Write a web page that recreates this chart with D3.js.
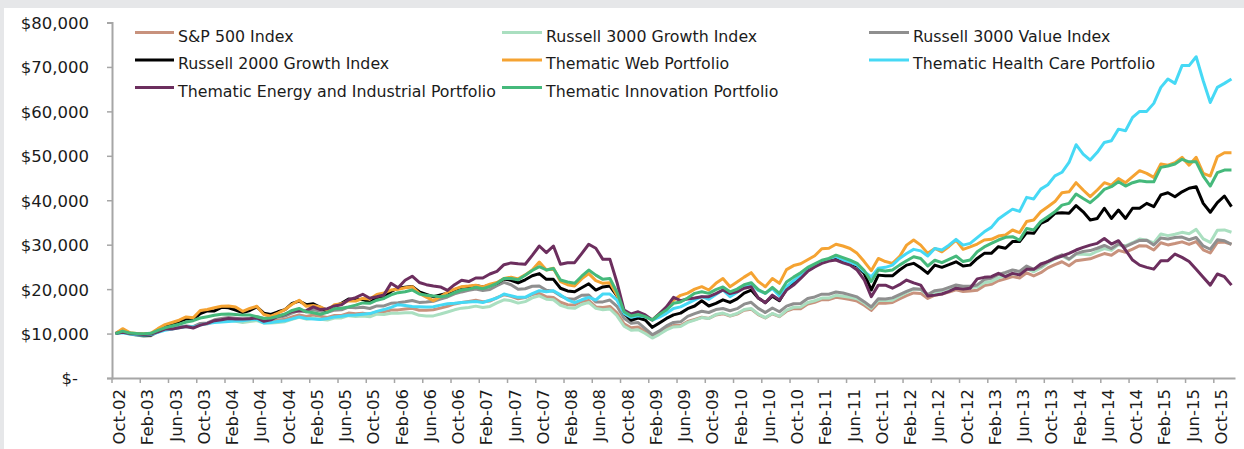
<!DOCTYPE html>
<html><head><meta charset="utf-8">
<script src="https://cdn.jsdelivr.net/npm/d3@7"></script>
<style>
html,body{margin:0;padding:0;background:#e6e7e9;}
svg{display:block;}
text{font-family:"DejaVu Sans",sans-serif;fill:#1b1b1b;}
</style></head><body><svg id="chart" width="1244" height="449"></svg>
<script>
// ---- DATA (growth of $10,000, monthly, Oct-02 .. Dec-15) ----
const seriesNames = ["S&P 500 Index","Russell 3000 Growth Index","Russell 3000 Value Index",
  "Russell 2000 Growth Index","Thematic Web Portfolio","Thematic Health Care Portfolio",
  "Thematic Energy and Industrial Portfolio","Thematic Innovation Portfolio"];
const seriesColors = ["#c8927d","#aadfc0","#8f8f8f","#000000","#f5a332","#46d9f5","#6c2e5e","#45b97b"];

const sp500 = [10000,10590,9970,9710,9560,9660,10450,11000,11150,11350,11560,11430,
12090,12200,12830,13060,13240,13040,12840,13020,13260,12820,12880,13020,
13210,13740,14210,13870,14160,13900,13640,14080,14090,14610,14480,14600,
14350,14890,14890,15280,15330,15510,15710,15260,15270,15360,15730,16140,
16670,16990,17230,17490,17140,17320,18090,18720,18400,17830,18100,18770,
19070,18270,18140,17050,16490,16420,17230,17450,15990,15860,16100,14660,
12200,11320,11450,10480,9360,10190,11160,11790,11810,12710,13170,13660,
13400,14200,14470,13950,14380,15240,15490,14250,13510,14450,13800,15030,
15600,15600,16650,17050,17630,17630,18160,17960,17650,17300,16360,15220,
16880,16840,17010,17780,18540,19150,19040,17900,18630,18890,19330,19830,
19470,19590,19770,20790,21080,21890,22300,22810,22520,23670,22980,23690,
24780,25530,26160,25250,26410,26620,26810,27420,28000,27610,28710,28310,
28990,29770,29680,28790,30430,29950,30250,30640,30060,30690,28850,28130,
30490,30580,30090];

const russell3000Growth = [10000,10540,9870,9610,9460,9610,10450,11000,11150,11400,11620,11430,
12150,12200,12760,12930,13040,12780,12510,12690,12930,12380,12360,12500,
12680,13190,13640,13240,13450,13210,13030,13510,13530,14030,13830,13940,
13770,14370,14300,14590,14560,14660,14690,14110,13970,13980,14390,14850,
15340,15720,15850,16170,15850,16110,16910,17600,17390,16850,17190,18020,
18500,17720,17600,16370,15830,15680,16540,17020,15670,15380,15530,14000,
11650,10750,10870,10010,8990,9830,10830,11490,11580,12520,13040,13590,
13400,14270,14610,14020,14520,15400,15640,14390,13580,14530,13870,15260,
15920,15990,16980,17390,17980,17980,18610,18400,18180,17820,16860,15680,
17470,17430,17520,18400,19280,20020,19900,18610,19280,19650,20200,20620,
20150,20370,20460,21420,21720,22540,22970,23500,23300,24610,23900,24760,
25900,26800,27470,26640,27860,27820,27750,28520,29120,28710,30000,29720,
30440,31260,31020,30380,32410,32040,32360,32780,32460,33450,31300,30520,
33230,33330,32800];

const russell3000Value = [10000,10590,9970,9660,9460,9510,10400,11060,11200,11400,11680,11550,
12270,12380,13090,13390,13640,13440,13220,13470,13790,13400,13520,13670,
13940,14630,15200,14910,15360,15090,14800,15270,15360,15930,15780,15910,
15640,16230,16230,16810,16930,17140,17440,17010,17100,17280,17780,18240,
18920,19370,19730,20020,19710,19920,20800,21530,20980,19970,20090,20640,
20690,19730,19500,18500,17810,17740,18610,18670,17100,17130,17540,16130,
13420,12340,12480,11110,9740,10590,11720,12500,12640,13860,14490,15020,
14740,15410,15630,15140,15600,16620,17040,15670,14720,15760,14910,16160,
16700,16770,17900,18240,18860,18860,19340,19120,18710,18250,17180,15980,
17810,17770,18030,18760,19470,20110,19990,18790,19660,19840,20390,20920,
20640,20670,20950,22140,22450,23310,23750,24300,23980,25200,24470,25110,
26270,27060,27730,26760,27990,28480,28680,29200,29820,29130,30150,29580,
30290,30960,31020,29940,31500,31290,31610,31710,31110,31610,29710,28970,
31100,30880,30090];

const russell2000Growth = [10000,10800,10050,9800,9600,9700,10700,11800,12100,12700,13300,13200,
14500,15100,15100,15900,15800,15300,14700,15200,16000,14600,14300,14900,
15400,16800,17300,16500,16700,15900,15000,16200,16800,17800,17600,17700,
17000,18100,18000,19500,20200,20400,20600,19400,18800,18300,18700,19100,
19900,20400,20500,20800,20500,20900,21300,22300,22000,21400,22100,23000,
23500,22200,22200,20200,19600,19400,20300,21200,19800,20500,20700,18500,
14550,13000,13500,13050,11400,12400,13400,14200,14600,15600,16200,17400,
16200,16800,17600,17000,17800,19100,19800,18000,16950,18400,17400,20100,
21500,23000,24300,25200,26100,26500,26900,26200,25800,25200,23550,19800,
23150,23000,23000,24300,25400,25800,24800,23550,25400,24900,25500,26150,
25200,25400,26900,28050,28050,29550,29200,30700,30700,32700,32550,34800,
35550,37050,37200,37050,38800,37400,35550,35900,38200,35900,37800,35900,
38200,38200,39300,38550,41200,41700,40800,41900,42700,43050,39300,37300,
39450,40950,38550];

const webPortfolio = [10000,11100,10200,10000,9950,10050,11100,12000,12500,13000,13750,13550,
15200,15400,15800,16150,16200,16000,15000,15650,16150,14300,13900,14600,
15400,16600,17500,16150,16300,16000,15250,16500,16700,17400,17300,17900,
17800,18800,19150,19800,19950,20300,20550,19050,18200,17400,18300,19300,
20000,20550,20700,20900,20500,21100,21500,22400,22700,22300,23200,24300,
26100,24300,24700,21700,21000,20700,22300,23500,21900,21300,21450,18600,
14900,14150,14400,13800,13050,14400,15700,17500,18600,19100,20000,20550,
19800,21300,22400,20550,21600,22700,23700,21700,20550,22400,21300,24400,
25300,25700,26600,27500,29100,29200,30100,29700,29150,28050,26200,24150,
26900,26200,25800,27300,29900,31050,29900,28050,29150,28400,29600,31050,
28950,29500,30150,31050,31200,31950,32200,33300,32700,35200,35550,37400,
38550,39700,41700,41900,43950,42300,40800,42300,43950,43400,44900,43950,
45300,46650,46050,45150,48150,47900,48450,49650,47900,49650,46050,45450,
49800,50700,50700];

const healthCarePortfolio = [10000,10200,9900,9750,9700,9800,10300,10750,11000,11300,11600,11500,
11900,12250,12500,12600,12700,12800,12900,13100,13200,12400,12500,12700,
12900,13300,13750,13400,13300,13150,13400,13750,13900,14100,14200,14350,
14500,15000,15400,15900,16500,16300,16100,16050,16000,16050,16400,16700,
16800,17000,17100,17200,17000,17500,18000,18900,18500,18150,18150,19000,
19650,19400,19650,18700,17600,16950,17600,18150,17550,18900,18900,17500,
14550,13650,14000,13800,13050,13700,14550,15650,16000,16800,17600,18300,
17700,18800,19800,18300,19300,20400,21300,19700,19050,20150,18450,20550,
21900,23000,24200,25100,26200,26800,27300,26550,26000,25400,23900,22800,
24700,24900,25400,26900,28000,28950,28600,27450,29150,28800,29900,31200,
29900,30300,31600,32900,33900,35800,36900,38000,37500,40650,40300,42500,
43500,45500,46300,48500,52500,50400,49050,50800,53000,53400,56000,55650,
58650,60000,60000,61800,65400,67300,66300,70300,70300,72300,66900,62000,
65400,66300,67300];

const energyIndustrialPortfolio = [10000,10300,10000,9900,9800,9900,10400,11000,11000,11300,11600,11250,
11900,12300,12900,13100,13400,13300,13250,13350,13500,12750,13100,13900,
14300,15000,15100,15150,16000,15400,15600,16200,16500,17600,18100,18850,
17950,18300,18700,21300,20300,22000,22900,21500,21000,20700,20500,19700,
21000,22000,21700,22500,22500,23400,24000,25500,25900,25700,25600,27600,
29700,28200,29700,25600,25950,25950,28000,30100,29200,26700,26700,21500,
15300,14400,14900,14200,13050,14500,16000,18150,17400,17800,18000,18300,
18300,19000,19800,19000,19400,20200,20550,18000,16950,18650,17550,19800,
20900,22400,24000,25000,25800,26300,26550,25900,25400,24300,22100,18300,
20900,20900,20200,21000,22050,21400,20900,18450,18650,18900,19500,20200,
20000,20200,22300,22650,22800,23550,22800,23550,23200,24450,24450,25650,
26200,26900,27450,28050,28800,29400,29900,30300,31400,30150,30900,28800,
26550,25400,24900,24500,26400,26400,27900,27150,26200,24450,22650,20900,
23400,22800,20900];

const innovationPortfolio = [10000,10550,10100,10000,9950,10050,10700,11300,11700,12100,12600,12900,
13500,13800,14100,14350,14400,14300,14150,14200,13800,13400,13500,13900,
14400,15200,15650,14900,14700,14350,14800,15600,15700,16000,16400,16900,
16800,17500,17900,18700,19200,19400,19800,18900,18600,18450,18300,18500,
19200,19800,20000,20400,20100,20600,21300,22400,22400,22100,23100,24200,
25050,24300,24650,22050,21600,21300,22900,24300,23150,22200,22400,19300,
14900,13950,14300,13800,13050,14300,15300,16800,17100,18000,19050,19400,
19050,19900,20500,19400,20000,21000,21450,19900,19050,20400,19050,21600,
22700,23700,24900,25700,26500,26900,27650,27100,26500,25800,24200,21700,
24300,24100,24300,25400,26400,27300,26900,25200,26500,25950,26700,27450,
26200,26550,28400,29500,30300,31050,31650,31800,31050,33650,33300,35200,
36300,37400,38900,39300,41400,40400,39450,40800,42450,43050,44150,43200,
43950,44400,44150,44150,47400,47700,48150,49200,48650,48650,45450,43200,
46200,46800,46800];

const yTickValues = [0,10000,20000,30000,40000,50000,60000,70000,80000];
const xTickLabels = ["Oct-02","Feb-03","Jun-03","Oct-03","Feb-04","Jun-04","Oct-04","Feb-05","Jun-05","Oct-05",
"Feb-06","Jun-06","Oct-06","Feb-07","Jun-07","Oct-07","Feb-08","Jun-08","Oct-08","Feb-09",
"Jun-09","Oct-09","Feb-10","Jun-10","Oct-10","Feb-11","Jun-11","Oct-11","Feb-12","Jun-12",
"Oct-12","Feb-13","Jun-13","Oct-13","Feb-14","Jun-14","Oct-14","Feb-15","Jun-15","Oct-15"];

const allSeries = [sp500, russell3000Growth, russell3000Value, russell2000Growth,
  webPortfolio, healthCarePortfolio, energyIndustrialPortfolio, innovationPortfolio];

// ---- CHART ----
const fmtMonth = d3.timeFormat("%b-%y");
const months = d3.timeMonth.range(new Date(2002, 9, 1), new Date(2016, 0, 1)).map(fmtMonth);

const svg = d3.select("#chart");
svg.append("rect").attr("x", 4).attr("y", 8).attr("width", 1240).attr("height", 441).attr("fill", "#ffffff");

const x = d3.scaleBand().domain(months).range([112, 1235]).paddingInner(0).paddingOuter(0);
const bw = x.bandwidth();
const y = d3.scaleLinear().domain([0, 80000]).range([378, 22.5]);

const axisColor = "#a6a6a6";

// y axis
const yAxis = d3.axisLeft(y).tickValues(yTickValues).tickSize(5).tickPadding(18)
  .tickFormat(d => d === 0 ? "$-" : "$" + d3.format(",")(d));
const yg = svg.append("g").attr("transform", "translate(112,0)").call(yAxis);
yg.select(".domain").attr("stroke", axisColor).attr("stroke-width", 2);
yg.selectAll(".tick line").attr("stroke", axisColor).attr("stroke-width", 1.5);
yg.selectAll(".tick text").attr("font-size", "16.5px").attr("fill", "#1b1b1b")
  .attr("font-family", '"DejaVu Sans",sans-serif').attr("dy", "0.36em")
  .attr("dx", d => d === 0 ? -11 : 0);

// x axis
const xAxis = d3.axisBottom(x).tickValues(xTickLabels).tickSize(5).tickSizeOuter(0);
const xg = svg.append("g").attr("transform", "translate(0,378)").call(xAxis);
xg.select(".domain").attr("stroke", axisColor).attr("stroke-width", 2);
xg.selectAll(".tick").attr("transform", d => `translate(${x(d)},0)`);
xg.selectAll(".tick line").attr("stroke", axisColor).attr("stroke-width", 1.5);
xg.selectAll(".tick text")
  .attr("font-size", "16.5px").attr("fill", "#1b1b1b")
  .attr("font-family", '"DejaVu Sans",sans-serif')
  .attr("text-anchor", "end")
  .attr("transform", "rotate(-90)")
  .attr("x", -11).attr("y", 0).attr("dy", "13px");

// lines
const line = d3.line().x((d, i) => x(months[i]) + bw / 2).y(d => y(d));
allSeries.forEach((s, k) => {
  svg.append("path").datum(s).attr("d", line).attr("fill", "none")
    .attr("stroke", seriesColors[k]).attr("stroke-width", 3)
    .attr("stroke-linejoin", "round");
});

// legend
const legCols = [[135, 178], [502, 546], [869, 913]];
const legRows = [32.5, 60, 87.5];
seriesNames.forEach((name, k) => {
  const c = legCols[k % 3], r = legRows[Math.floor(k / 3)];
  svg.append("line").attr("x1", c[0]).attr("x2", c[1] - 4).attr("y1", r).attr("y2", r)
    .attr("stroke", seriesColors[k]).attr("stroke-width", 3);
  svg.append("text").attr("x", c[1]).attr("y", r + 9.2).attr("font-size", "15.8px").text(name);
});
</script></body></html>
